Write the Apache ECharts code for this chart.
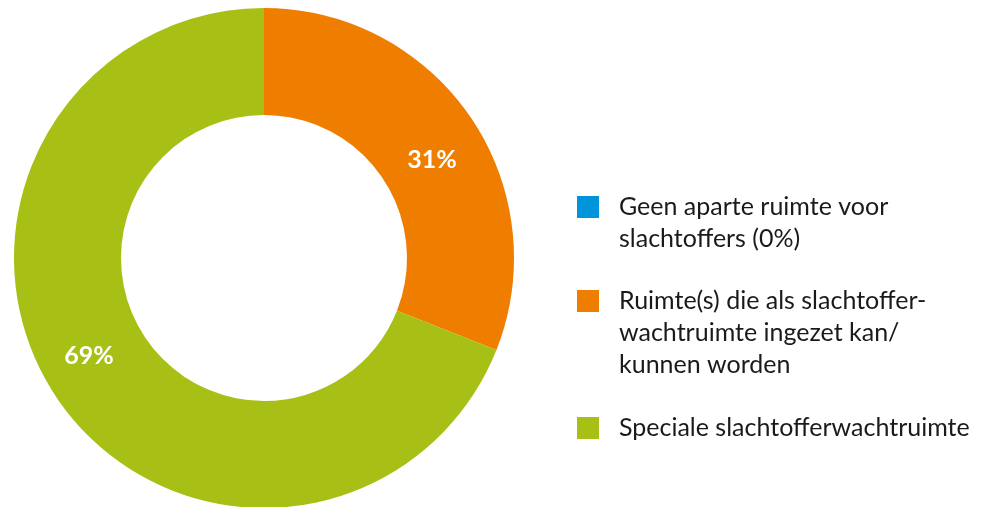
<!DOCTYPE html>
<html>
<head>
<meta charset="utf-8">
<script src="https://cdn.jsdelivr.net/npm/echarts@6/dist/echarts.min.js"></script>
<style>
  html, body { margin: 0; padding: 0; background: #fff; }
  #chart { width: 984px; height: 507px; }
</style>
</head>
<body>
<div id="chart"></div>
<script>
// categorieen en waarden (percentages)
var categories = [
  'Geen aparte ruimte voor\nslachtoffers (0%)',
  'Ruimte(s) die als slachtoffer-\nwachtruimte ingezet kan/\nkunnen worden',
  'Speciale slachtofferwachtruimte'
];
var values = [0, 31, 69];
var colors = ['#0095DA', '#EF7D00', '#A8BF16'];
var labelOffsets = [[0, 0], [3, 14], [-10, -14]];
var legendTops = [159, 221, 412];

var LH = 32;
var font = 'Lato, "Open Sans", sans-serif';

var myChart = echarts.init(document.getElementById('chart'));

// een legenda per item; lege regels erboven zodat het blokje bij de eerste regel staat
var legends = categories.map(function (name, i) {
  var n = name.split('\n').length;
  return {
    data: [name],
    left: 577,
    top: legendTops[i],
    padding: 0,
    orient: 'vertical',
    selectedMode: false,
    icon: 'rect',
    itemWidth: 22,
    itemHeight: 22,
    formatter: function (s) {
      return new Array(n).join('\n') + s;
    },
    textStyle: {
      fontFamily: font,
      fontSize: 25,
      color: '#1a1a1a',
      lineHeight: LH,
      padding: [0, 0, 0, 15]
    }
  };
});

myChart.setOption({
  animation: false,
  color: colors,
  legend: legends,
  series: [{
    type: 'pie',
    center: [264, 258],
    radius: [143, 250],
    startAngle: 90,
    clockwise: true,
    stillShowZeroSum: false,
    avoidLabelOverlap: false,
    labelLine: { show: false },
    emphasis: { disabled: true },
    data: categories.map(function (name, i) {
      return {
        name: name,
        value: values[i],
        label: {
          show: values[i] > 0,
          position: 'inside',
          offset: labelOffsets[i],
          formatter: '{c}%',
          color: '#fff',
          fontFamily: font,
          fontWeight: 'bold',
          fontSize: 25
        }
      };
    })
  }]
});
</script>
</body>
</html>
